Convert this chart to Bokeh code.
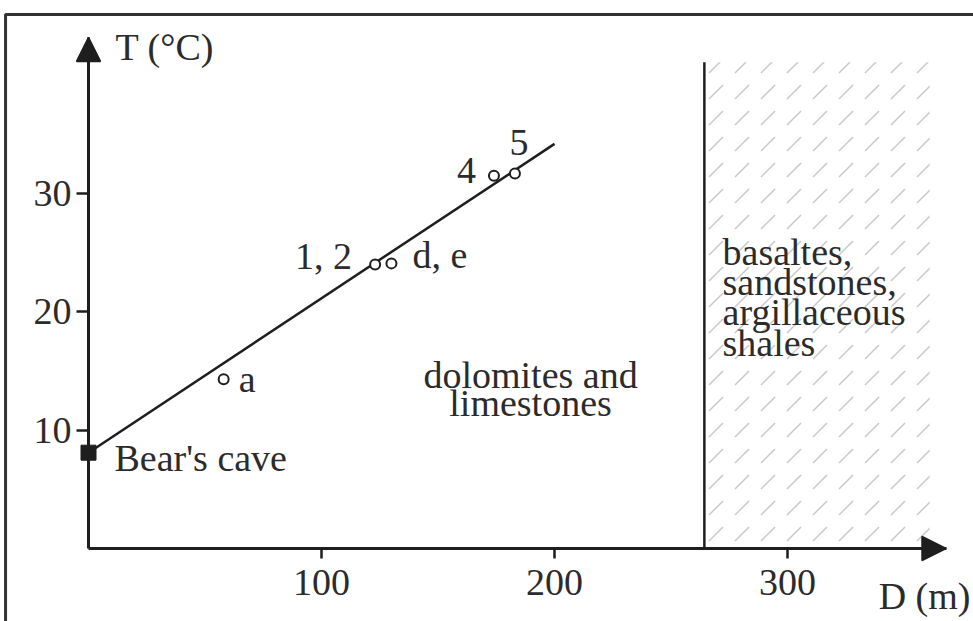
from bokeh.plotting import figure
from bokeh.models import (ColumnDataSource, FixedTicker, Range1d, Label, Arrow,
                          NormalHead, BoxAnnotation)
from bokeh.core.properties import value
from bokeh.embed import file_html
from bokeh.resources import INLINE

# Depth of the sampled springs (m) and their water temperature (°C)
spring_depth = [58, 123, 130, 174, 183]
spring_temp = [14.3, 24.0, 24.1, 31.5, 31.7]
spring_names = ["a", "1, 2", "d, e", "4", "5"]

# Bear's cave, at the top of the profile
cave_depth = [0]
cave_temp = [8.1]

# Linear temperature trend through the carbonate section
trend_depth = [0, 200]
trend_temp = [8.1, 34.2]

# Contact between the carbonates and the basalt / shale series
boundary_depth = 264.3
boundary_top = 41.1
series_right = 361

x_ticks = [100, 200, 300]
y_ticks = [10, 20, 30]

FONT = "Liberation Serif"
INK = "#1e1e1e"
TEXT = "#2b2b2b"
FS = "38px"

# the frame fills the canvas; both axes are pinned to the origin
p = figure(width=973, height=621, output_backend="svg", toolbar_location=None,
           x_range=Range1d(-37.77, 379.8), y_range=Range1d(-6.17, 46.32),
           min_border=0, min_border_left=0, min_border_right=0,
           min_border_top=0, min_border_bottom=0,
           background_fill_color="white", border_fill_color="white",
           outline_line_color=None)
p.grid.visible = False

for ax, ticks, end in ((p.xaxis, x_ticks, 368), (p.yaxis, y_ticks, 43.2)):
    ax.fixed_location = 0
    ax.ticker = FixedTicker(ticks=ticks)
    ax.bounds = (0, end)
    ax.axis_line_width = 3
    ax.axis_line_color = INK
    ax.major_tick_line_width = 2.5
    ax.major_tick_line_color = INK
    ax.major_tick_in = 0
    ax.minor_tick_line_color = None
    ax.major_label_text_font = FONT
    ax.major_label_text_font_size = FS
    ax.major_label_text_color = TEXT
p.xaxis.major_tick_out = 10
p.xaxis.major_label_standoff = 11
p.yaxis.major_tick_out = 12
p.yaxis.major_label_standoff = 5

# arrowheads at the ends of both axes
for xs, ys, xe, ye in ((0, 39, 0, 43.2), (345, 0, 368, 0)):
    p.add_layout(Arrow(end=NormalHead(size=24, fill_color=INK, fill_alpha=1,
                                      line_color=INK, line_width=1.5),
                       x_start=xs, y_start=ys, x_end=xe, y_end=ye,
                       line_width=3, line_color=INK))

# frame around the figure panel
p.add_layout(BoxAnnotation(left=-35.6, right=460, top=45.14, bottom=-20,
                           fill_alpha=0, line_color="#333333", line_alpha=1,
                           line_width=3))

# basalt / sandstone / shale series, shown with oblique dashes
p.quad(left=[boundary_depth], right=[series_right], bottom=[0], top=[boundary_top],
       fill_alpha=0, line_alpha=0, hatch_pattern="right_diagonal_dash",
       hatch_color="#c8c8c8", hatch_scale=26, hatch_weight=1.5)
p.segment(x0=[boundary_depth], y0=[0], x1=[boundary_depth], y1=[boundary_top],
          line_width=2.5, line_color=INK)

# trend line, cave and springs
p.line(trend_depth, trend_temp, line_width=2.5, line_color=INK)
p.scatter(cave_depth, cave_temp, marker="square", size=15,
          fill_color=INK, line_color=INK)

label_dx = [15, -23, 21, -18, 4]
label_dy = [0, -9, -8, -5, -31]
label_align = ["left", "right", "left", "right", "center"]
src = ColumnDataSource(dict(d=spring_depth, t=spring_temp, name=spring_names,
                            dx=label_dx, dy=label_dy, align=label_align))
p.scatter("d", "t", source=src, marker="circle", size=10,
          fill_color="white", line_color=INK, line_width=2)
p.text("d", "t", text="name", source=src, x_offset="dx", y_offset="dy",
       text_align="align", text_baseline="alphabetic",
       text_font=value(FONT), text_font_size=FS, text_color=TEXT)

p.text(cave_depth, cave_temp, text=["Bear's cave"], x_offset=26, y_offset=5,
       text_align="left", text_baseline="alphabetic",
       text_font=value(FONT), text_font_size=FS, text_color=TEXT)


def note(x, y, s, align="left"):
    p.add_layout(Label(x=x, y=y, text=s, text_align=align,
                       text_baseline="alphabetic", text_font=FONT,
                       text_font_size=FS, text_color=TEXT))


note(11.6, 42.35, "T (°C)")
note(339.1, -4.0, "D (m)")
note(189.7, 14.7, "dolomites and", "center")
note(189.7, 12.34, "limestones", "center")
for y, s in zip([25.02, 22.49, 19.95, 17.41],
                ["basaltes,", "sandstones,", "argillaceous", "shales"]):
    note(272.1, y, s)

open("out.html", "w").write(file_html(p, INLINE))
